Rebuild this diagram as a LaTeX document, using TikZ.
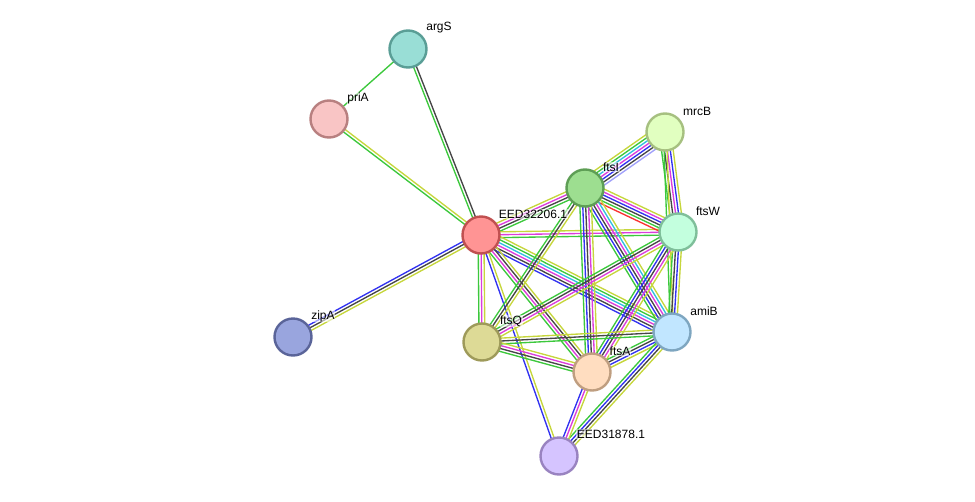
\documentclass[tikz,border=0pt]{standalone}
\usepackage{fontspec}
\setmainfont{Liberation Sans}
\usetikzlibrary{calc,backgrounds}

\definecolor{cgreen}{RGB}{60,200,60}
\definecolor{cdark}{RGB}{70,70,70}
\definecolor{cmag}{RGB}{220,60,220}
\definecolor{cyel}{RGB}{198,214,60}
\definecolor{cblue}{RGB}{50,50,240}
\definecolor{ccyan}{RGB}{50,190,225}
\definecolor{cred}{RGB}{250,50,50}
\definecolor{clav}{RGB}{160,160,250}

% one link = a bundle of thin parallel lines
\newcommand\netedge[3]{%
  \def\ncol{0}%
  \foreach \c in {#3}{\xdef\ncol{\number\numexpr\ncol+1\relax}}%
  \foreach \c [count=\i] in {#3}{%
    \pgfmathsetmacro\off{(\i-(\ncol+1)/2)*2.9}%
    \draw[edgeline, \c] ($(#1)!\off pt!90:(#2)$) -- ($(#2)!\off pt!-90:(#1)$);
  }}

\begin{document}
\begin{tikzpicture}[x=1pt, y=-1pt]
\tikzset{
  gene/.style={circle, minimum size=37pt, inner sep=0pt, line width=2.4pt},
  lbl/.style={font=\fontsize{12}{14}\selectfont, inner sep=0.5pt, fill=white, fill opacity=0.55, text opacity=1},
  edgeline/.style={line width=1.35pt},
}
\useasboundingbox (0,0) rectangle (975,501);

\node [gene, fill={rgb,255:red,153;green,222;blue,214}, draw={rgb,255:red,90;green,158;blue,150}] (argS) at (408,49) {};
\node [gene, fill={rgb,255:red,249;green,197;blue,197}, draw={rgb,255:red,184;green,128;blue,128}] (priA) at (329,119) {};
\node [gene, fill={rgb,255:red,255;green,148;blue,148}, draw={rgb,255:red,192;green,80;blue,80}] (eed1) at (481,235) {};
\node [gene, fill={rgb,255:red,153;green,165;blue,222}, draw={rgb,255:red,90;green,100;blue,153}] (zipA) at (293,337) {};
\node [gene, fill={rgb,255:red,157;green,222;blue,144}, draw={rgb,255:red,94;green,158;blue,85}] (ftsI) at (585,188) {};
\node [gene, fill={rgb,255:red,225;green,255;blue,192}, draw={rgb,255:red,166;green,192;blue,128}] (mrcB) at (665,132) {};
\node [gene, fill={rgb,255:red,195;green,255;blue,222}, draw={rgb,255:red,127;green,191;blue,154}] (ftsW) at (678,232) {};
\node [gene, fill={rgb,255:red,221;green,218;blue,150}, draw={rgb,255:red,158;green,154;blue,90}] (ftsQ) at (482,342) {};
\node [gene, fill={rgb,255:red,193;green,230;blue,255}, draw={rgb,255:red,126;green,166;blue,192}] (amiB) at (672,332) {};
\node [gene, fill={rgb,255:red,255;green,221;blue,192}, draw={rgb,255:red,191;green,158;blue,128}] (ftsA) at (592,372) {};
\node [gene, fill={rgb,255:red,213;green,196;blue,255}, draw={rgb,255:red,153;green,131;blue,192}] (eed2) at (559,456) {};

\node [lbl] (argS-l) at ($(argS)+(31,-21)$) {argS};
\node [lbl] (priA-l) at ($(priA)+(29,-21)$) {priA};
\node [lbl] (eed1-l) at ($(eed1)+(52,-21)$) {EED32206.1};
\node [lbl] (zipA-l) at ($(zipA)+(30,-21)$) {zipA};
\node [lbl] (ftsI-l) at ($(ftsI)+(26,-21)$) {ftsI};
\node [lbl] (mrcB-l) at ($(mrcB)+(32,-21)$) {mrcB};
\node [lbl] (ftsW-l) at ($(ftsW)+(30,-21)$) {ftsW};
\node [lbl] (ftsQ-l) at ($(ftsQ)+(29,-21)$) {ftsQ};
\node [lbl] (amiB-l) at ($(amiB)+(32,-21)$) {amiB};
\node [lbl] (ftsA-l) at ($(ftsA)+(28,-21)$) {ftsA};
\node [lbl] (eed2-l) at ($(eed2)+(52,-22)$) {EED31878.1};

\begin{scope}[on background layer]
\netedge{argS}{priA}{cgreen}
\netedge{argS}{eed1}{cgreen,cdark}
\netedge{priA}{eed1}{cgreen,cyel}
\netedge{eed1}{zipA}{cblue,cdark,cyel}
\netedge{eed1}{ftsI}{cgreen,cdark,cmag,cyel}
\netedge{eed1}{ftsW}{cgreen,cmag,cyel}
\netedge{eed1}{ftsQ}{cgreen,cmag,cyel}
\netedge{eed1}{amiB}{cblue,cdark,cmag,ccyan,cgreen,cyel}
\netedge{eed1}{ftsA}{cgreen,cmag,cdark,cyel}
\netedge{eed1}{eed2}{cblue,cyel}
\netedge{ftsI}{mrcB}{clav,cdark,cblue,cmag,ccyan,cgreen,cyel}
\netedge{ftsI}{ftsW}{cred,cgreen,cdark,cblue,cmag,cyel}
\netedge{ftsI}{ftsQ}{cgreen,cdark,cyel}
\netedge{ftsI}{amiB}{cgreen,cblue,cdark,cmag,ccyan,cyel}
\netedge{ftsI}{ftsA}{cgreen,cblue,cdark,cmag,cyel}
\netedge{mrcB}{ftsW}{cgreen,cdark,cmag,cblue,cyel}
\netedge{mrcB}{amiB}{cgreen,cyel}
\netedge{ftsW}{ftsQ}{cgreen,cdark,cmag,cyel}
\netedge{ftsW}{amiB}{cgreen,cdark,cblue,cyel}
\netedge{ftsW}{ftsA}{cgreen,cblue,cdark,cmag,cyel}
\netedge{ftsQ}{amiB}{cgreen,cdark,cyel}
\netedge{ftsQ}{ftsA}{cgreen,cdark,cmag,cyel}
\netedge{amiB}{ftsA}{cgreen,cdark,cblue,cyel}
\netedge{amiB}{eed2}{cgreen,cblue,cdark,cyel}
\netedge{ftsA}{eed2}{cblue,cmag,cyel}
\end{scope}

\end{tikzpicture}
\end{document}
